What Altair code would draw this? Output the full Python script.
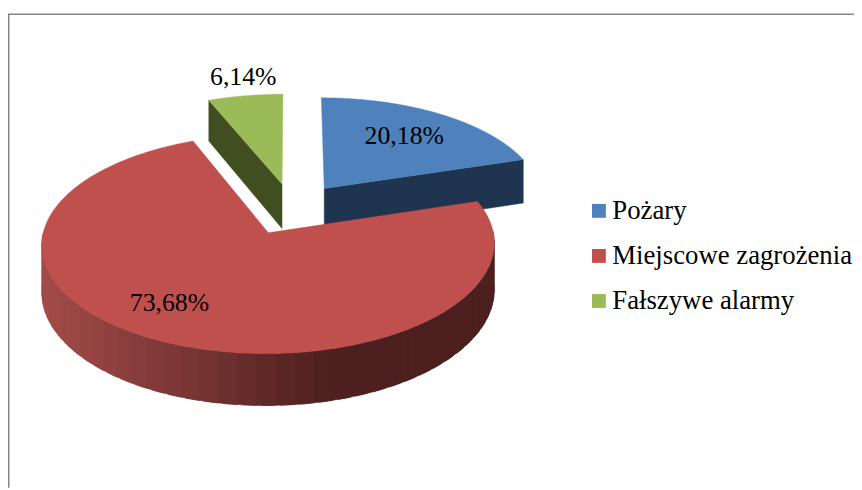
import math
import altair as alt
import pandas as pd

categories = ["Pożary", "Miejscowe zagrożenia", "Fałszywe alarmy"]
shares = [20.18, 73.68, 6.14]
share_labels = ["20,18%", "73,68%", "6,14%"]
top_colors = ["#4F81BD", "#C0504D", "#9BBB59"]
wall_colors = ["#1F344F", None, "#404E20"]

CX, CY, A, B, K, H, EXPL = 295.0, 208.5, 222.0, 104.5, 0.1, 46.0, 0.25
W, HT = 854, 482
FONT = "Liberation Serif"
SIZE = 26
LEG_SIZE = 27


def project(u, v, z=0.0):
    w = 1 + K * v
    return CX + A * u / w, CY - (B * v + H * z) / w


def mix(c1, c2, t):
    a = [int(c1[i:i + 2], 16) for i in (1, 3, 5)]
    b = [int(c2[i:i + 2], 16) for i in (1, 3, 5)]
    return "#%02x%02x%02x" % tuple(round(p + (q - p) * t) for p, q in zip(a, b))


rows = []
pid = 0


def add_poly(points, color):
    global pid
    pid += 1
    for i, (x, y) in enumerate(points + points[:1]):
        rows.append({"pid": pid, "seq": i, "px": x, "py": y, "shade": color})


spans = []
start = 0.0
for s in shares:
    end = start + s / 100 * 360
    spans.append((start, end))
    start = end


def slice_geom(idx):
    a0, a1 = spans[idx]
    mid = math.radians((a0 + a1) / 2)
    ox, oy = EXPL * math.sin(mid), EXPL * math.cos(mid)
    angs = [math.radians(a0 + (a1 - a0) * i / 240) for i in range(241)]
    rim = [(ox + math.sin(t), oy + math.cos(t)) for t in angs]
    return (ox, oy), rim


def wall_side(center, pt, color):
    add_poly([project(*center), project(*pt), project(pt[0], pt[1], -1), project(center[0], center[1], -1)], color)


# green
c, rim = slice_geom(2)
wall_side(c, rim[0], wall_colors[2])
add_poly([project(*c)] + [project(*p) for p in rim], top_colors[2])
# blue
c, rim = slice_geom(0)
wall_side(c, rim[-1], wall_colors[0])
add_poly([project(*c)] + [project(*p) for p in rim], top_colors[0])
# red: wall strips, painted left to right, each running under the next
c, rim = slice_geom(1)
vis = [p for p in rim if p[1] < c[1] + 0.02]
step = 4
for i in range(0, len(vis) - 1, step):
    seg = vis[i:i + step + 4]
    top = [project(*p) for p in seg]
    bot = [project(p[0], p[1], -1) for p in reversed(seg)]
    xm = project(*vis[min(i + step // 2, len(vis) - 1)])[0]
    t = max(0.0, min(1.0, (xm - 41) / 290))
    col = mix("#A44C49", "#4D1F1F", t)
    add_poly(top + bot, col)
add_poly([project(*c)] + [project(*p) for p in rim], top_colors[1])

df = pd.DataFrame(rows)
xs = alt.X("px:Q", scale=alt.Scale(domain=[8, 8 + W], nice=False, zero=False), axis=None)
ys = alt.Y("py:Q", scale=alt.Scale(domain=[8 + HT, 8], nice=False, zero=False), axis=None)

polys = alt.Chart(df).mark_line(filled=True, strokeWidth=0.5, interpolate="linear").encode(
    x=xs, y=ys, detail="pid:N", order="seq:Q",
    fill=alt.Fill("shade:N", scale=None, legend=None),
    stroke=alt.Stroke("shade:N", scale=None, legend=None),
)

label_df = pd.DataFrame({
    "px": [408, 171, 245.5], "py": [135, 304, 75], "txt": share_labels,
})
labels = alt.Chart(label_df).mark_text(font=FONT, fontSize=SIZE, color="#000000").encode(x=xs, y=ys, text="txt:N")

frame_df = pd.DataFrame({"px": [8.75, 8.75, 862], "py": [490, 12, 12], "k": [0, 1, 2]})
frame = alt.Chart(frame_df).mark_line(color="#868686", strokeWidth=1.5).encode(x=xs, y=ys, order="k:Q")

leg_df = pd.DataFrame({"cat": categories})
legend_layer = alt.Chart(leg_df).mark_square(opacity=0).encode(
    x=alt.value(100), y=alt.value(100),
    color=alt.Color("cat:N", scale=alt.Scale(domain=categories, range=top_colors), sort=categories,
                    legend=alt.Legend(orient="none", legendX=583, legendY=189, title=None,
                                      symbolType="square", symbolSize=196, symbolOpacity=1, symbolStrokeWidth=0,
                                      labelFont=FONT, labelFontSize=LEG_SIZE, labelColor="#000000",
                                      rowPadding=17.5, labelLimit=300, labelOffset=0)),
)

chart = alt.layer(frame, polys, labels, legend_layer).properties(
    width=W, height=HT, padding=0, background="#FFFFFF",
    autosize=alt.AutoSizeParams(type="none"),
).configure_view(stroke=None)
chart.save("out.html", embed_options={"renderer": "svg", "actions": False})
